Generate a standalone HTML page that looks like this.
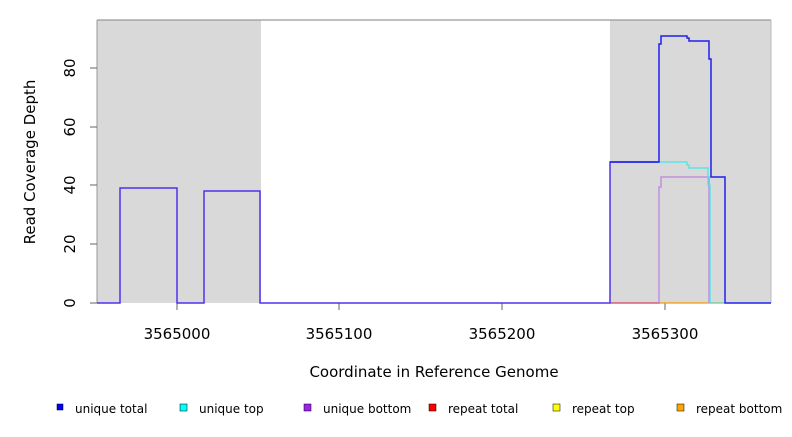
<!DOCTYPE html>
<html><head><style>body{margin:0;background:#fff}</style></head><body>
<svg width="792" height="432" xmlns="http://www.w3.org/2000/svg" font-family="DejaVu Sans, Liberation Sans, sans-serif">
<rect x="97" y="20" width="164" height="283" fill="#d9d9d9"/>
<rect x="610" y="20" width="161" height="283" fill="#d9d9d9"/>
<line x1="97" y1="20" x2="771" y2="20" stroke="#999" stroke-width="1.2"/>
<line x1="771" y1="20" x2="771" y2="303" stroke="#bbb"/>
<line x1="97" y1="20" x2="97" y2="303" stroke="#999"/>
<g stroke="#666">
<line x1="90" y1="303" x2="97" y2="303"/><line x1="90" y1="244" x2="97" y2="244"/>
<line x1="90" y1="185" x2="97" y2="185"/><line x1="90" y1="127" x2="97" y2="127"/>
<line x1="90" y1="68" x2="97" y2="68"/>
<line x1="177" y1="303" x2="177" y2="310"/><line x1="339" y1="303" x2="339" y2="310"/>
<line x1="502" y1="303" x2="502" y2="310"/><line x1="665" y1="303" x2="665" y2="310"/>
</g>
<g font-size="15" fill="#000" text-anchor="middle">
<text transform="translate(75,303) rotate(-90)">0</text>
<text transform="translate(75,244) rotate(-90)">20</text>
<text transform="translate(75,185) rotate(-90)">40</text>
<text transform="translate(75,127) rotate(-90)">60</text>
<text transform="translate(75,68) rotate(-90)">80</text>
<text x="177" y="339">3565000</text><text x="339" y="339">3565100</text>
<text x="502" y="339">3565200</text><text x="665" y="339">3565300</text>
<text x="434" y="377">Coordinate in Reference Genome</text>
<text transform="translate(35,162) rotate(-90)">Read Coverage Depth</text>
</g>
<line x1="610" y1="303" x2="660" y2="303" stroke="#d04060" stroke-width="1.2"/>
<line x1="660" y1="303" x2="710" y2="303" stroke="#f90" stroke-width="1.2"/>
<line x1="710" y1="303" x2="725" y2="303" stroke="#6c8" stroke-width="1.2"/>
<polyline fill="none" stroke="#c090e0" stroke-width="1.5" points="659,303 659,187 661,187 661,177 709,177 709,303"/>
<polyline fill="none" stroke="#40e8e8" stroke-width="1.2" points="610,162 687,162 687,165 689,165 689,168 708,168 708,185 710,185 710,303"/>
<polyline fill="none" stroke="#5030f0" stroke-width="1.5" points="97,303 120,303 120,188 177,188 177,303 204,303 204,191 260,191 260,303 610,303 610,162 659,162"/>
<polyline fill="none" stroke="#2020f0" stroke-width="1.5" points="610,162 659,162 659,44 661,44 661,36 687,36 687,38 689,38 689,41 709,41 709,59 711,59 711,177 725,177 725,303 771,303"/>
<g font-size="12" fill="#000">
<rect x="57" y="404" width="6" height="6" fill="#00f" stroke="#000" stroke-width=".5"/><text x="75" y="413">unique total</text>
<rect x="180" y="404" width="7" height="7" fill="#0ff" stroke="#000" stroke-width=".5"/><text x="199" y="413">unique top</text>
<rect x="304" y="404" width="7" height="7" fill="#a020f0" stroke="#000" stroke-width=".5"/><text x="323" y="413">unique bottom</text>
<rect x="429" y="404" width="7" height="7" fill="#f00" stroke="#000" stroke-width=".5"/><text x="448" y="413">repeat total</text>
<rect x="553" y="404" width="7" height="7" fill="#ff0" stroke="#000" stroke-width=".5"/><text x="572" y="413">repeat top</text>
<rect x="677" y="404" width="7" height="7" fill="#ffa500" stroke="#000" stroke-width=".5"/><text x="696" y="413">repeat bottom</text>
</g>
</svg>
</body></html>
